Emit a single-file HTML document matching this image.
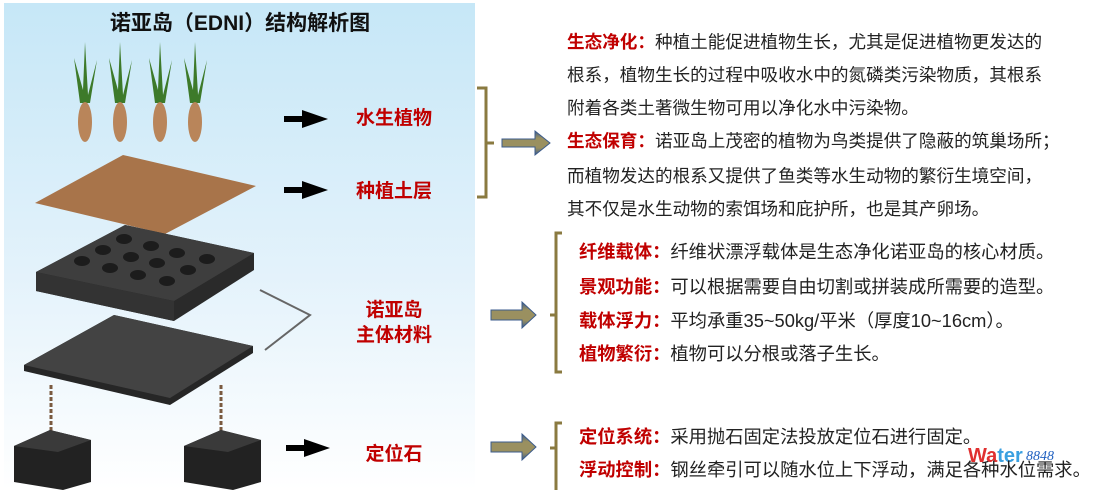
<!DOCTYPE html>
<html style="overflow:hidden"><head><meta charset="utf-8"><style>
html,body{margin:0;width:1097px;height:490px;overflow:hidden;background:#fff;font-family:"Liberation Sans","Noto Sans CJK SC",sans-serif}
svg{position:absolute;left:0;top:0}
.t{position:absolute;font-size:17.6px;color:#222;white-space:nowrap;font-family:"Liberation Sans","Noto Sans CJK SC",sans-serif;line-height:22px}
.u{font-size:18.3px}
.t b{color:#c00000}
</style></head><body>
<svg width="1097" height="490">
<defs>
<linearGradient id="bg" x1="0" y1="0" x2="0" y2="1"><stop offset="0" stop-color="#c6e7f7"/><stop offset="0.55" stop-color="#e3f2fb"/><stop offset="1" stop-color="#ffffff"/></linearGradient>
<linearGradient id="ar" x1="0" y1="0" x2="0" y2="1"><stop offset="0" stop-color="#3b5b8c"/><stop offset="0.3" stop-color="#9a9060"/><stop offset="0.7" stop-color="#9a9060"/><stop offset="1" stop-color="#3b5b8c"/></linearGradient>
</defs>
<rect x="4" y="3" width="471" height="487" fill="url(#bg)"/>
<text x="240" y="30" font-size="21" font-weight="bold" text-anchor="middle" fill="#111" font-family="Liberation Sans,Noto Sans CJK SC,sans-serif">诺亚岛（EDNI）结构解析图</text>
<g fill="#3d7a2a">
<path d="M80 103 L74 58 L83 90 L85 42 L88 95 L97 60 L90 103Z"/>
<path d="M115 103 L109 58 L118 90 L120 42 L123 95 L132 60 L125 103Z"/>
<path d="M155 103 L149 58 L158 90 L160 42 L163 95 L172 60 L165 103Z"/>
<path d="M190 103 L184 58 L193 90 L195 42 L198 95 L207 60 L200 103Z"/>
</g>
<g fill="#b9855a"><ellipse cx="85" cy="122" rx="7" ry="20"/><ellipse cx="120" cy="122" rx="7" ry="20"/><ellipse cx="160" cy="122" rx="7" ry="20"/><ellipse cx="195" cy="122" rx="7" ry="20"/></g>
<polygon points="35,203 123,155 256,186 165,234" fill="#a8744a"/>
<polygon points="36,272 125,225 254,253 254,270 174,321 36,291" fill="#2a2a2a"/>
<polygon points="36,272 125,225 254,253 174,301" fill="#3e3e3e"/>
<polygon points="36,272 174,301 174,321 36,291" fill="#333"/>
<g fill="#1c1c1c"><ellipse cx="124" cy="239" rx="8" ry="5"/><ellipse cx="151" cy="246" rx="8" ry="5"/><ellipse cx="177" cy="253" rx="8" ry="5"/><ellipse cx="207" cy="259" rx="8" ry="5"/><ellipse cx="103" cy="250" rx="8" ry="5"/><ellipse cx="131" cy="257" rx="8" ry="5"/><ellipse cx="157" cy="263" rx="8" ry="5"/><ellipse cx="188" cy="270" rx="8" ry="5"/><ellipse cx="82" cy="261" rx="8" ry="5"/><ellipse cx="110" cy="268" rx="8" ry="5"/><ellipse cx="138" cy="275" rx="8" ry="5"/><ellipse cx="167" cy="281" rx="8" ry="5"/></g>
<polygon points="24,365 114,315 253,346 253,353 170,405 24,371" fill="#262626"/>
<polygon points="24,365 114,315 253,346 170,398" fill="#434343"/>
<polyline points="260,290 310,315 265,350" fill="none" stroke="#666" stroke-width="2"/>
<line x1="51" y1="385" x2="51" y2="440" stroke="#7a5a40" stroke-width="3" stroke-dasharray="4,2"/>
<line x1="221" y1="385" x2="221" y2="440" stroke="#7a5a40" stroke-width="3" stroke-dasharray="4,2"/>
<polygon points="14,446 50,430 91,440 91,482 63,490 14,482" fill="#222"/>
<polygon points="14,446 50,430 91,440 58,452" fill="#3a3a3a"/>
<polygon points="184,446 221,430 261,440 261,482 233,490 184,482" fill="#222"/>
<polygon points="184,446 221,430 261,440 228,452" fill="#3a3a3a"/>
<g fill="#000"><rect x="284" y="116" width="20" height="6"/><polygon points="302,110 328,119 302,128"/>
<rect x="284" y="187" width="20" height="6"/><polygon points="302,181 328,190 302,199"/>
<rect x="286" y="445" width="20" height="6"/><polygon points="304,439 330,448 304,457"/></g>
<g font-size="19" font-weight="bold" fill="#c00000" text-anchor="middle" font-family="Liberation Sans,Noto Sans CJK SC,sans-serif">
<text x="394" y="124">水生植物</text><text x="394" y="197">种植土层</text>
<text x="394" y="316">诺亚岛</text><text x="394" y="341">主体材料</text><text x="394" y="460">定位石</text></g>
<g fill="none" stroke="#8a7a40" stroke-width="3">
<path d="M477 88 H486 V143 H494 M486 143 V197 H477"/>
<path d="M562 233 H556 V315 H550 M556 315 V372 H562"/>
<path d="M562 423 H556 V448 H550 M556 448 V490"/>
</g>
<g fill="url(#ar)" stroke="#3b5b8c" stroke-width="1">
<path d="M502 139 H535 V131 L550 143 L535 155 V147 H502Z"/>
<path d="M491 310 H522 V302 L536 315 L522 328 V320 H491Z"/>
<path d="M491 442 H522 V434 L536 447 L522 460 V452 H491Z"/>
</g>
<text x="968" y="462" font-size="20" font-weight="bold" fill="#e03030" font-family="Liberation Sans,sans-serif">Wa<tspan fill="#3aa0e0">ter</tspan></text>
<text x="1026" y="460" font-size="14" font-style="italic" fill="#2060c0" font-family="Liberation Serif,serif">8848</text>
</svg>
<div class="t" style="left:567px;top:31px"><b>生态净化：</b>种植土能促进植物生长，尤其是促进植物更发达的</div>
<div class="t" style="left:567px;top:64px">根系，植物生长的过程中吸收水中的氮磷类污染物质，其根系</div>
<div class="t" style="left:567px;top:97px">附着各类土著微生物可用以净化水中污染物。</div>
<div class="t" style="left:567px;top:130px"><b>生态保育：</b>诺亚岛上茂密的植物为鸟类提供了隐蔽的筑巢场所；</div>
<div class="t" style="left:567px;top:165px">而植物发达的根系又提供了鱼类等水生动物的繁衍生境空间，</div>
<div class="t" style="left:567px;top:198px">其不仅是水生动物的索饵场和庇护所，也是其产卵场。</div>
<div class="t u" style="left:579px;top:241px"><b>纤维载体：</b>纤维状漂浮载体是生态净化诺亚岛的核心材质。</div>
<div class="t u" style="left:579px;top:276px"><b>景观功能：</b>可以根据需要自由切割或拼装成所需要的造型。</div>
<div class="t u" style="left:579px;top:310px"><b>载体浮力：</b>平均承重35~50kg/平米（厚度10~16cm）。</div>
<div class="t u" style="left:579px;top:343px"><b>植物繁衍：</b>植物可以分根或落子生长。</div>
<div class="t u" style="left:579px;top:426px"><b>定位系统：</b>采用抛石固定法投放定位石进行固定。</div>
<div class="t u" style="left:579px;top:459px"><b>浮动控制：</b>钢丝牵引可以随水位上下浮动，满足各种水位需求。</div>
</body></html>
